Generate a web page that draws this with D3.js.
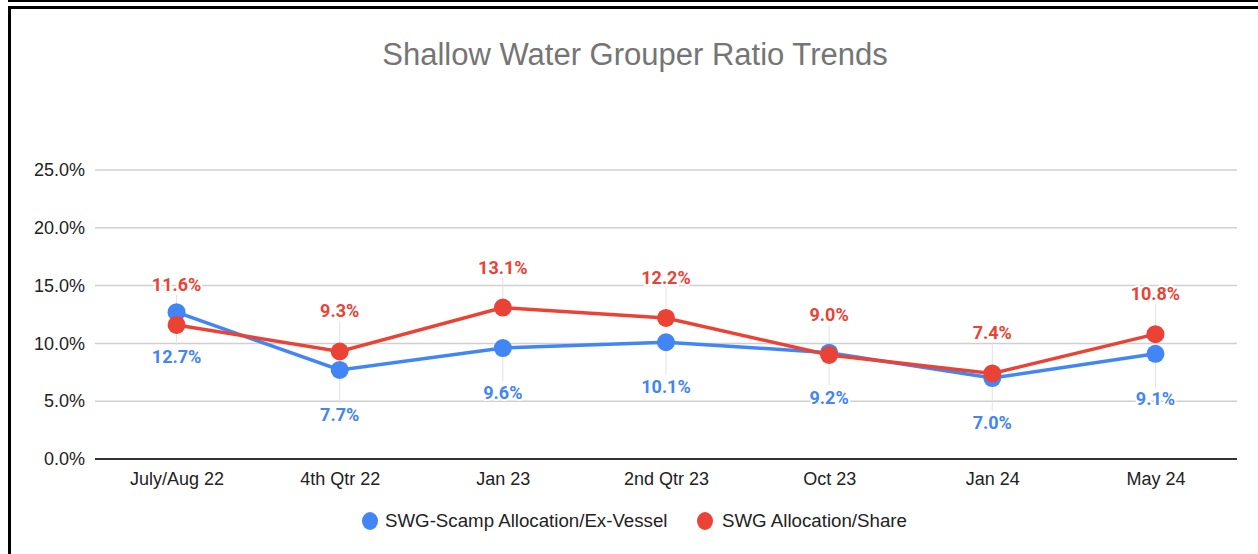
<!DOCTYPE html>
<html>
<head>
<meta charset="utf-8">
<script src="https://cdn.jsdelivr.net/npm/d3@7"></script>
<style>
  body { margin: 0; background: #fff; }
  svg { display: block; font-family: 'Liberation Sans', Arial, sans-serif; }
</style>
</head>
<body>
<div id="graf"></div>
<script>
// Datos
categorias = ['July/Aug 22', '4th Qtr 22', 'Jan 23', '2nd Qtr 23', 'Oct 23', 'Jan 24', 'May 24']
scamp = [12.7, 7.7, 9.6, 10.1, 9.2, 7.0, 9.1]
share = [11.6, 9.3, 13.1, 12.2, 9.0, 7.4, 10.8]
yTicks = [0, 5, 10, 15, 20, 25]
series = [
  { name: 'SWG-Scamp Allocation/Ex-Vessel', values: scamp, color: '#4285f4', pos: 'below' },
  { name: 'SWG Allocation/Share', values: share, color: '#ea4335', pos: 'above' }
]

ancho_total = 1258
alto_total = 554
margins = { top: 170, left: 95, right: 21, bottom: 95 }
ancho = ancho_total - margins.left - margins.right
alto = alto_total - margins.top - margins.bottom

svg = d3.select('#graf').append('svg')
  .attr('width', ancho_total)
  .attr('height', alto_total)

// Marco
svg.append('rect').attr('x', 8).attr('y', 0).attr('width', 1250).attr('height', 2).attr('fill', '#000')
svg.append('rect').attr('x', 8).attr('y', 6).attr('width', 1250).attr('height', 3).attr('fill', '#000')
svg.append('rect').attr('x', 8).attr('y', 6).attr('width', 3).attr('height', 548).attr('fill', '#000')

// Titulo
svg.append('text')
  .attr('x', 635).attr('y', 65)
  .attr('text-anchor', 'middle')
  .attr('fill', '#757575')
  .style('font-size', '31px')
  .text('Shallow Water Grouper Ratio Trends')

g = svg.append('g').attr('transform', `translate(${margins.left}, ${margins.top})`)

// Escaladores
x = d3.scalePoint().domain(categorias).range([0, ancho]).padding(0.5)
y = d3.scaleLinear().domain([0, 25]).range([alto, 0])

// Grid horizontal
g.selectAll('.grid').data(yTicks.filter(d => d > 0)).join('line')
  .attr('x1', 0).attr('x2', ancho)
  .attr('y1', d => y(d)).attr('y2', d => y(d))
  .attr('stroke', '#d0d0d0').attr('stroke-width', 1.5)

// Etiquetas eje Y
yAxis = g.append('g').call(d3.axisLeft(y).tickValues(yTicks).tickSize(0).tickPadding(10).tickFormat(d => d.toFixed(1) + '%'))
yAxis.select('.domain').remove()
yAxis.selectAll('text').attr('fill', '#222').style('font-size', '18px').style('font-family', "'Liberation Sans', Arial, sans-serif")

// Linea base
g.append('line')
  .attr('x1', 0).attr('x2', ancho)
  .attr('y1', y(0)).attr('y2', y(0))
  .attr('stroke', '#333').attr('stroke-width', 2)

// Eje X
xAxis = g.append('g').attr('transform', `translate(0, ${alto})`)
  .call(d3.axisBottom(x).tickSize(0).tickPadding(13))
xAxis.select('.domain').remove()
xAxis.selectAll('text').attr('fill', '#222').style('font-size', '18px').style('font-family', "'Liberation Sans', Arial, sans-serif")

// Lineas guia de etiquetas
series.forEach(s => {
  g.selectAll(null).data(s.values).join('line')
    .attr('x1', (d, i) => x(categorias[i])).attr('x2', (d, i) => x(categorias[i]))
    .attr('y1', d => y(d))
    .attr('y2', d => s.pos == 'above' ? y(d) - 30 : y(d) + 33)
    .attr('stroke', '#e2e2e2').attr('stroke-width', 1)
})

lineaGen = d3.line()
  .x((d, i) => x(categorias[i]))
  .y(d => y(d))

series.forEach(s => {
  g.append('path')
    .attr('d', lineaGen(s.values))
    .attr('fill', 'none')
    .attr('stroke', s.color)
    .attr('stroke-width', 3.5)
  g.selectAll(null).data(s.values).join('circle')
    .attr('cx', (d, i) => x(categorias[i]))
    .attr('cy', d => y(d))
    .attr('r', 9)
    .attr('fill', s.color)
})

// Etiquetas de datos
series.forEach(s => {
  g.selectAll(null).data(s.values).join('text')
    .attr('x', (d, i) => x(categorias[i]))
    .attr('y', d => s.pos == 'above' ? y(d) - 34 : y(d) + 51)
    .attr('text-anchor', 'middle')
    .attr('fill', s.color)
    .attr('stroke', '#fff').attr('stroke-width', 4)
    .style('paint-order', 'stroke')
    .style('font-family', 'Roboto, Arial, sans-serif')
    .style('font-size', '18px')
    .style('font-weight', 'bold')
    .text(d => d.toFixed(1) + '%')
})

// Leyenda
leyenda = [
  { s: series[0], cx: 370, tx: 385 },
  { s: series[1], cx: 705, tx: 722 }
]
leg = svg.append('g')
leyenda.forEach(l => {
  leg.append('ellipse').attr('cx', l.cx).attr('cy', 521).attr('rx', 8).attr('ry', 9).attr('fill', l.s.color)
  leg.append('text').attr('x', l.tx).attr('y', 527)
    .attr('fill', '#222').style('font-size', '18.7px')
    .text(l.s.name)
})
</script>
</body>
</html>
